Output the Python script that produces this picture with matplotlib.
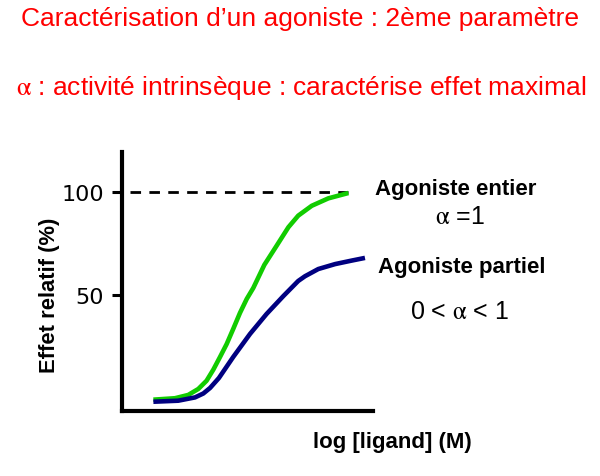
import matplotlib
matplotlib.use("Agg")
import matplotlib.pyplot as plt

plt.rcParams["font.family"] = ["Liberation Sans", "DejaVu Sans"]
plt.rcParams["mathtext.fontset"] = "stix"

# courbes dose-réponse (x arbitraire 0..10, effet en %)
x_entier = [1.25, 2.11, 2.64, 3.04, 3.37, 3.64, 3.90, 4.17, 4.43, 4.70,
            4.97, 5.23, 5.67, 6.16, 6.63, 7.02, 7.56, 8.22, 9.02]
y_entier = [-0.8, -0.1, 1.5, 4.4, 8.4, 13.8, 19.8, 26.2, 33.5, 41.3,
            48.1, 53.4, 64.6, 73.9, 82.9, 88.5, 93.3, 96.9, 99.5]

x_partiel = [1.25, 2.24, 2.91, 3.24, 3.51, 3.86, 4.43, 5.10, 5.76, 6.43,
             7.02, 7.29, 7.82, 8.49, 9.15, 9.68]
y_partiel = [-1.8, -1.3, 0.3, 2.2, 4.9, 9.7, 19.9, 31.1, 40.8, 49.5,
             56.8, 59.1, 62.6, 65.0, 66.7, 68.0]

effet_max = 100
yticks = [50, 100]
ytick_labels = ["50", "100"]

RED = "#ff0000"
GREEN = "#11cc00"
NAVY = "#000080"
ALPHA = r"$\mathrm{\alpha}$"

W, H = 600, 477
fig = plt.figure(figsize=(W / 100, H / 100), dpi=100)
ax = fig.add_axes([122 / W, 1 - 412 / H, 251 / W, 259 / H])

ax.plot([0.32, 9.0], [effet_max, effet_max], color="black", lw=2.0, ls=(0, (3.8, 3.0)))
ax.plot(x_entier, y_entier, color=GREEN, lw=3.3, solid_capstyle="butt",
        solid_joinstyle="round")
ax.plot(x_partiel, y_partiel, color=NAVY, lw=3.3, solid_capstyle="butt",
        solid_joinstyle="round")

ax.set_xlim(0, 10)
ax.set_ylim(-6.3, 119.4)
for side in ["top", "right"]:
    ax.spines[side].set_visible(False)
for side in ["left", "bottom"]:
    ax.spines[side].set_linewidth(3)
ax.set_xticks([])
ax.set_yticks(yticks)
ax.set_yticklabels(ytick_labels, fontsize=16, family="DejaVu Sans")
ax.tick_params(axis="y", length=7, width=2.2, pad=6)


def px(x, y):
    return x / W, 1 - y / H


fig.text(*px(50, 295), "Effet relatif (%)", fontsize=15.8, fontweight="bold",
         rotation=90, ha="center", va="center")

fig.text(*px(300, 19), "Caractérisation d\u2019un agoniste : 2ème paramètre",
         color=RED, fontsize=19, ha="center", va="center")
fig.text(*px(301, 88), ALPHA + " : activité intrinsèque : caractérise effet maximal",
         color=RED, fontsize=19, ha="center", va="center")

fig.text(*px(456, 190), "Agoniste entier", fontsize=16, fontweight="bold",
         ha="center", va="center")
fig.text(*px(460, 217), ALPHA + " =1", fontsize=18, ha="center", va="center")
fig.text(*px(462, 268), "Agoniste partiel", fontsize=16, fontweight="bold",
         ha="center", va="center")
fig.text(*px(460, 312), "0 < " + ALPHA + " < 1", fontsize=18, ha="center", va="center")

fig.text(*px(392, 443), "log [ligand] (M)", fontsize=16, fontweight="bold",
         ha="center", va="center")

fig.savefig("out.png", dpi=100)
